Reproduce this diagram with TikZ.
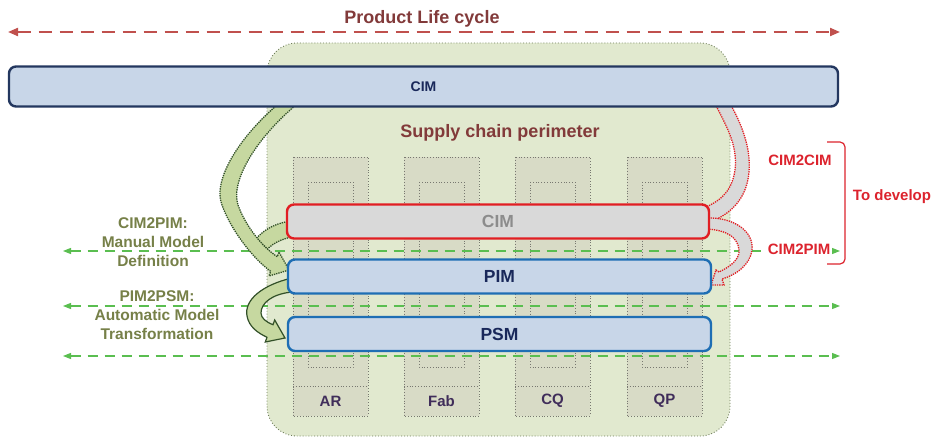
\documentclass[tikz,border=0pt]{standalone}
\usepackage{fontspec}
\setmainfont{Liberation Sans}
\usetikzlibrary{arrows.meta}

\definecolor{plcred}{RGB}{192,80,77}
\definecolor{plctext}{RGB}{130,58,58}
\definecolor{zonefill}{RGB}{225,233,207}
\definecolor{zoneline}{RGB}{110,125,90}
\definecolor{colfill}{RGB}{216,219,198}
\definecolor{colline}{RGB}{120,120,112}
\definecolor{boxfill}{RGB}{200,214,232}
\definecolor{boxline}{RGB}{30,110,180}
\definecolor{topline}{RGB}{35,55,95}
\definecolor{boxtext}{RGB}{25,40,90}
\definecolor{redline}{RGB}{225,30,35}
\definecolor{grayfill}{RGB}{217,217,217}
\definecolor{graytext}{RGB}{140,140,140}
\definecolor{bandfill}{RGB}{198,216,160}
\definecolor{banddark}{RGB}{50,80,40}
\definecolor{flowgreen}{RGB}{90,190,80}
\definecolor{olivetext}{RGB}{118,128,72}
\definecolor{coltext}{RGB}{64,45,90}
\definecolor{devred}{RGB}{220,35,45}

\newcommand{\fsz}[2]{\fontsize{#1}{#2}\selectfont\bfseries}

\begin{document}
\begin{tikzpicture}[x=1pt,y=-1pt,
    modelbox/.style={draw=boxline, line width=2.4pt, fill=boxfill, rounded corners=7pt,
        text=boxtext, font=\fsz{17.5}{20}, minimum height=34pt, minimum width=423pt},
    colbox/.style={draw=colline, dotted, line width=0.8pt},
    flowline/.style={draw=flowgreen, line width=1.1pt, dash pattern=on 10pt off 7pt,
        {Triangle[length=8pt,width=6pt]}-{Triangle[length=8pt,width=6pt]}},
    greenband/.style={fill=bandfill, draw=banddark, densely dotted, line width=1.3pt},
    redband/.style={fill=grayfill, draw=redline, densely dotted, line width=1.3pt},
    steplabel/.style={text=olivetext, font=\fsz{15.5}{19}, align=center},
    devlabel/.style={text=devred, font=\fsz{15}{18}}]
    %%%%% START %%%%%

    \useasboundingbox (0,0) rectangle (933,438);

    % supply chain perimeter
    \draw[fill=zonefill, draw=zoneline, dotted, line width=0.9pt, rounded corners=30pt]
        (267,43) rectangle (730,436);
    \node[text=plctext, font=\fsz{18}{22}] (perim) at (500,133) {Supply chain perimeter};

    % partner columns
    \foreach \x/\lab in {293/AR,404/Fab,515/CQ,627/QP}{
        \draw[colbox, fill=colfill] (\x,157) rectangle (\x+75,416);
        \draw[colbox] (\x+15,182) rectangle (\x+60,367);
        \draw[colbox] (\x,386) -- (\x+75,386);
        \node[text=coltext, font=\fsz{15}{18}] (col-\lab) at (\x+37.5,401) {\lab};
    }

    % product life cycle
    \coordinate (plcL) at (8,32);
    \coordinate (plcR) at (840,32);
    \draw[plcred, line width=2pt, dash pattern=on 13pt off 8pt,
        {Triangle[length=10pt,width=8pt]}-{Triangle[length=10pt,width=8pt]}] (plcL) -- (plcR);
    \node[text=plctext, font=\fsz{18}{22}] (plc) at (422,19) {Product Life cycle};

    % level lines
    \foreach \i/\y in {1/251,2/306,3/356}{
        \coordinate (lvlL\i) at (63,\y);
        \coordinate (lvlR\i) at (840,\y);
        \draw[flowline] (lvlL\i) -- (lvlR\i);
    }

    % CIM2PIM branch and main transformation
    \draw[greenband] (292,221) .. controls (272,223) and (256,234) .. (249,250)
        -- (262,257) .. controls (266,248) and (276,240) .. (292,237) -- cycle;
    \draw[greenband] (283,100) .. controls (240,135) and (212,180) .. (222,205)
        .. controls (230,228) and (252,258) .. (270.7,271.3) -- (269,276) -- (289,270)
        -- (279,252) -- (277.3,256.7) .. controls (262,247) and (245,225) .. (238,205)
        .. controls (230,180) and (258,135) .. (302,100) -- cycle;
    \draw[fill=bandfill, draw=banddark, line width=1.2pt] (292,278)
        .. controls (262,285) and (244,300) .. (247,316)
        .. controls (249,327) and (258,333) .. (267,337.3) -- (265.3,342) -- (285,338)
        -- (274.7,320) -- (273,324.7) .. controls (266,322) and (261,318) .. (261,313)
        .. controls (261,303) and (272,294) .. (292,292) -- cycle;

    % to develop
    \draw[redband] (713,100) .. controls (726,125) and (738,145) .. (735,170)
        .. controls (732,190) and (722,200) .. (706,207) -- (708,223) -- (717,219)
        .. controls (735,210) and (747,195) .. (749,172)
        .. controls (751,148) and (742,124) .. (728,100) -- cycle;
    \draw[redband] (706,218) .. controls (735,217) and (754,232) .. (752,250)
        .. controls (750,265) and (736,275) .. (722,279) -- (724,285) -- (711,285)
        -- (716,270) -- (719,272) .. controls (732,266) and (740,258) .. (739,250)
        .. controls (738,238) and (728,230) .. (706,229) -- cycle;

    % models
    \node[modelbox, draw=topline, minimum width=829pt, minimum height=40pt,
        font=\fsz{14}{16}] (cimtop) at (423.5,86.5) {CIM};
    \node[modelbox, draw=redline, fill=grayfill, text=graytext, minimum width=422pt]
        (cim) at (498,221.5) {CIM};
    \node[modelbox] (pim) at (499.5,276.5) {PIM};
    \node[modelbox] (psm) at (499.5,334) {PSM};

    % labels
    \node[steplabel] (manual) at (153,242) {CIM2PIM:\\Manual Model\\Definition};
    \node[steplabel] (auto) at (157,315) {PIM2PSM:\\Automatic Model\\Transformation};
    \node[devlabel] (c2c) at (800,160) {CIM2CIM};
    \node[devlabel, fill=white, inner sep=1pt] (c2p) at (799,249) {CIM2PIM};
    \draw[devred, line width=1.2pt, rounded corners=5pt]
        (827,142) -- (845,142) -- (845,264) -- (827,264);
    \node[devlabel] (todev) at (892,197) {To develop};

    %%%%% END %%%%%
\end{tikzpicture}
\end{document}
